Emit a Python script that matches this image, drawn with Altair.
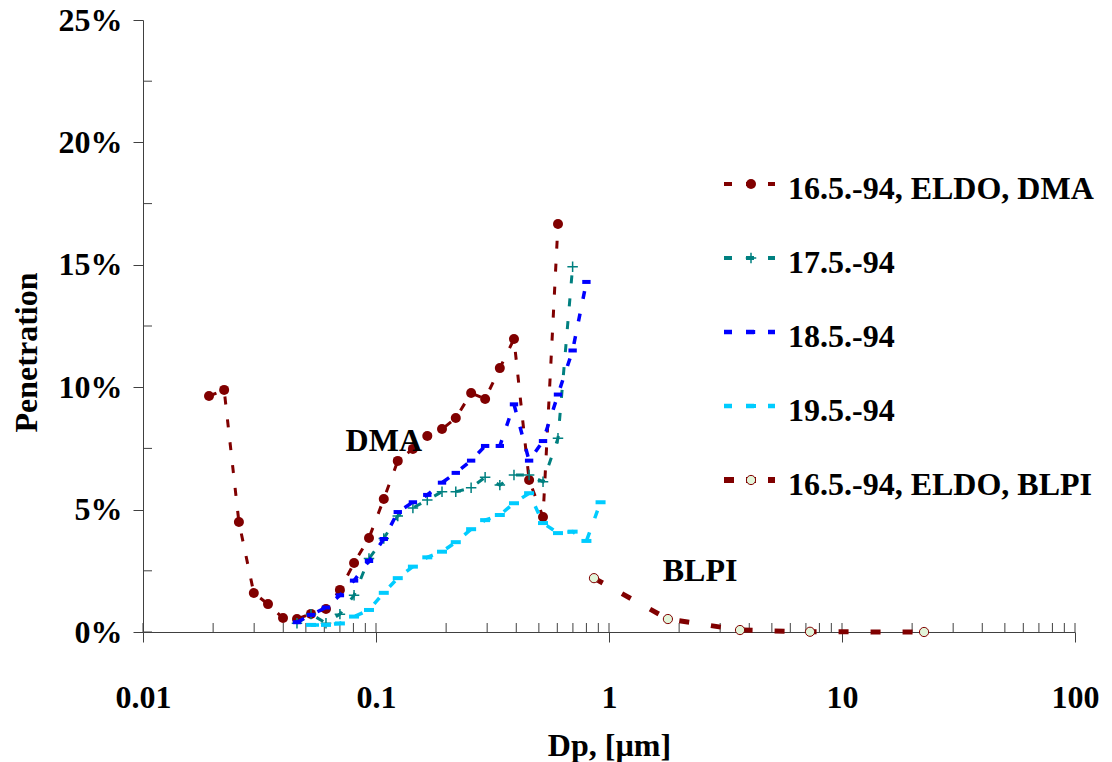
import altair as alt
import pandas as pd

# ---------------- data ----------------
series_names = ["16.5.-94, ELDO, DMA", "17.5.-94", "18.5.-94", "19.5.-94", "16.5.-94, ELDO, BLPI"]

dma_dp = [0.0192, 0.0223, 0.0258, 0.0299, 0.0344, 0.0399, 0.0458, 0.0526, 0.061, 0.070,
          0.0805, 0.0933, 0.108, 0.124, 0.144, 0.166, 0.192, 0.220, 0.256, 0.294,
          0.340, 0.391, 0.454, 0.521, 0.604]
dma_pen = [9.64, 9.89, 4.49, 1.59, 1.14, 0.57, 0.53, 0.74, 0.94, 1.72,
           2.82, 3.84, 5.43, 6.99, 7.48, 8.01, 8.29, 8.74, 9.76, 9.52,
           10.78, 11.97, 6.21, 4.70, 16.67]

d17_dp = [0.0458, 0.0526, 0.061, 0.070, 0.0805, 0.0933, 0.108, 0.124, 0.144, 0.166,
          0.192, 0.220, 0.256, 0.294, 0.340, 0.391, 0.454, 0.521, 0.604, 0.698]
d17_pen = [0.36, 0.73, 0.36, 0.73, 1.50, 3.0, 3.82, 4.74, 5.07, 5.39,
           5.73, 5.73, 5.89, 6.32, 6.00, 6.41, 6.41, 6.14, 7.91, 14.92]

d18_dp = [0.0458, 0.0526, 0.061, 0.070, 0.0805, 0.0933, 0.108, 0.124, 0.144, 0.166,
          0.192, 0.220, 0.256, 0.294, 0.340, 0.391, 0.454, 0.521, 0.604, 0.698, 0.80]
d18_pen = [0.4, 0.7, 1.0, 1.5, 2.1, 2.9, 3.8, 4.9, 5.3, 5.6,
           6.1, 6.5, 7.0, 7.6, 7.6, 9.3, 7.0, 7.8, 9.7, 11.5, 14.3]

d19_dp = [0.0526, 0.061, 0.070, 0.0805, 0.0933, 0.108, 0.124, 0.144, 0.166, 0.192,
          0.220, 0.256, 0.294, 0.340, 0.391, 0.454, 0.521, 0.604, 0.698, 0.80, 0.92]
d19_pen = [0.29, 0.29, 0.35, 0.63, 0.9, 1.6, 2.2, 2.67, 3.05, 3.28,
           3.67, 4.2, 4.57, 4.78, 5.26, 5.67, 4.45, 4.04, 4.1, 3.72, 5.3]

blpi_dp = [0.862, 1.79, 3.65, 7.29, 22.5]
blpi_pen = [2.2, 0.53, 0.08, 0.01, 0.0]

ann_labels = ["DMA", "BLPI"]
ann_dp = [0.108, 2.46]
ann_pen = [7.8, 2.5]

x_major = [0.01, 0.1, 1, 10, 100]
x_inner_ticks = [0.01, 0.02, 0.03, 0.04, 0.05, 0.06, 0.07, 0.08, 0.09,
                 0.1, 0.2, 0.3, 0.4, 0.5, 0.6, 0.7, 0.8, 0.9,
                 1, 2, 3, 4, 5, 6, 7, 8, 9,
                 10, 20, 30, 40, 50, 60, 70, 80, 90, 100]
y_major = [0, 5, 10, 15, 20, 25]
y_inner_ticks = [0, 2.5, 7.5, 12.5, 17.5, 22.5]

# ---------------- styling ----------------
FONT = "Liberation Serif"
AX = "#404040"
W, H = 932, 612

xscale = alt.Scale(type="log", domain=[0.01, 100])
yscale = alt.Scale(domain=[0, 25], nice=False, zero=True)

xaxis = alt.Axis(values=x_major, format="~g", title="Dp, [µm]", grid=False,
                 tickSize=10, tickColor=AX, domainColor=AX, tickWidth=1, domainWidth=1,
                 labelFont=FONT, labelFontSize=32, labelFontWeight="bold", labelColor="black",
                 labelPadding=40, labelFlush=False, labelOverlap=False,
                 titleFont=FONT, titleFontSize=32, titleFontWeight="bold", titleColor="black",
                 titleY=98, titleBaseline="top")
yaxis = alt.Axis(values=y_major, labelExpr="datum.value + '%'", title="Penetration", grid=False,
                 tickSize=10, tickColor=AX, domainColor=AX, tickWidth=1, domainWidth=1,
                 labelFont=FONT, labelFontSize=32, labelFontWeight="bold", labelColor="black",
                 labelPadding=11, labelFlush=False, labelOverlap=False,
                 titleFont=FONT, titleFontSize=32, titleFontWeight="bold", titleColor="black",
                 titleAngle=270, titleX=-100, titleY=332, titleBaseline="bottom", titleAlign="center")


def X(field):
    return alt.X(field, type="quantitative", scale=xscale, axis=xaxis)


def Y(field):
    return alt.Y(field, type="quantitative", scale=yscale, axis=yaxis)


def df(dp, pen):
    return pd.DataFrame({"dp": dp, "pen": pen})


CROSS = "M-1,0H1M0,-1V1"
BAR = "M-1,0H1"

styles = [
    # (dp, pen, line color, width, dash, marker kwargs)
    (dma_dp, dma_pen, "#800000", 3, [8, 15],
     dict(shape="circle", filled=True, color="#800000", size=100, opacity=1)),
    (d17_dp, d17_pen, "#008080", 3, [8, 15],
     dict(shape=CROSS, filled=False, color="#008080", size=110, strokeWidth=1.5, opacity=1)),
    (d18_dp, d18_pen, "#0000FF", 3.5, [8, 15],
     dict(shape=BAR, filled=False, color="#0000FF", size=70, strokeWidth=4, opacity=1)),
    (d19_dp, d19_pen, "#00CCFF", 3.5, [8, 15],
     dict(shape=BAR, filled=False, color="#00CCFF", size=100, strokeWidth=4, opacity=1)),
    (blpi_dp, blpi_pen, "#800000", 5, [10, 22],
     dict(shape="circle", filled=True, fill="#E2F5DA", stroke="#800000", strokeWidth=1,
          size=85, opacity=1)),
]

layers = []

# inner (minor) ticks
layers.append(alt.Chart(pd.DataFrame({"t": x_inner_ticks})).mark_rule(color=AX, strokeWidth=1).encode(
    x=X("t"), y=alt.value(H), y2=alt.value(H - 9)))
layers.append(alt.Chart(pd.DataFrame({"t": y_inner_ticks})).mark_rule(color=AX, strokeWidth=1).encode(
    y=Y("t"), x=alt.value(0), x2=alt.value(9)))

for dp, pen, col, sw, dash, mk in styles:
    d = df(dp, pen)
    layers.append(alt.Chart(d).mark_line(color=col, strokeWidth=sw, strokeDash=dash,
                                         strokeCap="butt").encode(x=X("dp"), y=Y("pen"), order="dp:Q"))
    layers.append(alt.Chart(d).mark_point(**mk).encode(x=X("dp"), y=Y("pen")))

# annotations
layers.append(alt.Chart(pd.DataFrame({"dp": ann_dp, "pen": ann_pen, "label": ann_labels})).mark_text(
    font=FONT, fontSize=32, fontWeight="bold", color="black", align="center", baseline="middle").encode(
    x=X("dp"), y=Y("pen"), text="label:N"))

# legend (manual, to show dashed line + marker like the original)
leg_y0, leg_dy = 164, 74
for i, (name, st) in enumerate(zip(series_names, styles)):
    _, _, col, sw, dash, mk = st
    ry = leg_y0 + i * leg_dy
    one = alt.Data(values=[{"label": name}])
    seg_dash = [8, 14] if i < 4 else [10, 12]
    layers.append(alt.Chart(one).mark_rule(color=col, strokeWidth=sw + 1 if i < 4 else 6,
                                           strokeDash=seg_dash, strokeCap="butt").encode(
        x=alt.value(581), x2=alt.value(632), y=alt.value(ry)))
    layers.append(alt.Chart(one).mark_point(**mk).encode(x=alt.value(608), y=alt.value(ry)))
    layers.append(alt.Chart(one).mark_text(font=FONT, fontSize=32, fontWeight="bold", color="black",
                                           align="left", baseline="middle").encode(
        x=alt.value(645), y=alt.value(ry + 5), text="label:N"))

chart = alt.layer(*layers).properties(
    width=W, height=H,
    autosize=alt.AutoSizeParams(type="none"),
    padding={"left": 143, "top": 20, "right": 37, "bottom": 130},
    background="white",
).configure_view(stroke=None)

chart.save("out.html", embed_options={"renderer": "svg", "actions": False})
